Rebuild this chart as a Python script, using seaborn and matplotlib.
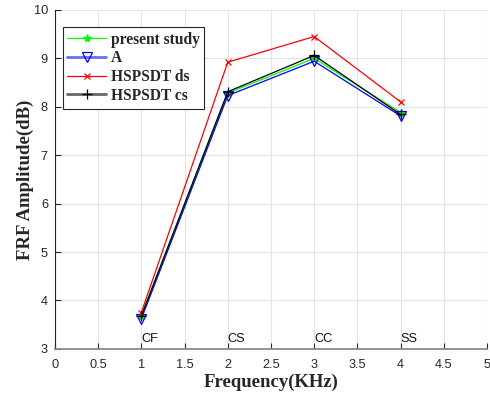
import matplotlib
matplotlib.use("Agg")
import matplotlib.pyplot as plt
import seaborn as sns
import pandas as pd

# Boundary conditions and their frequency positions
freq = [1, 2, 3, 4]
bc_labels = ["CF", "CS", "CC", "SS"]

present_study = [3.68, 8.28, 9.00, 7.88]
ref_a = [3.62, 8.23, 8.94, 7.81]
hspsdt_ds = [3.75, 8.92, 9.45, 8.10]
hspsdt_cs = [3.68, 8.31, 9.06, 7.84]

series = [
    ("present study", present_study, "#00ff00", "*", "#00ff00", 6),
    ("A", ref_a, "#0000ff", "v", "none", 7),
    ("HSPSDT ds", hspsdt_ds, "#ff0000", "x", "#ff0000", 5),
    ("HSPSDT cs", hspsdt_cs, "#000000", "+", "#000000", 7),
]

sns.set_style("whitegrid")
plt.rcParams["font.family"] = ["Liberation Sans", "DejaVu Sans"]

fig = plt.figure(figsize=(4.9, 3.96), dpi=100)
ax = fig.add_axes([0.112, 0.119, 0.882, 0.856])

for name, vals, color, marker, mfc, ms in series:
    df = pd.DataFrame({"freq": freq, "amp": vals})
    sns.lineplot(data=df, x="freq", y="amp", ax=ax, color=color, marker=marker,
                 markersize=ms, markerfacecolor=mfc, markeredgecolor=color,
                 markeredgewidth=0.9, linewidth=0.9, label=name)

for x, lab in zip(freq, bc_labels):
    ax.text(x, 3.14, lab, ha="left", va="baseline", fontsize=9.2, color="#111111")

ax.set_xlim(0, 5)
ax.set_ylim(3, 10)
ax.set_xticks([0, 0.5, 1, 1.5, 2, 2.5, 3, 3.5, 4, 4.5, 5])
ax.set_xticklabels(["0", "0.5", "1", "1.5", "2", "2.5", "3", "3.5", "4", "4.5", "5"])
ax.set_yticks(range(3, 11))
ax.grid(True, color="#e4e4e4", linewidth=0.8)
ax.tick_params(axis="both", direction="in", length=4, width=0.8, labelsize=9.2,
               colors="#262626", bottom=True, left=True)
ax.tick_params(axis="x", pad=7)
ax.tick_params(axis="y", pad=5)

for side in ["top", "right"]:
    ax.spines[side].set_visible(False)
ax.spines["left"].set_color("#262626")
ax.spines["bottom"].set_color("#8a8a8a")
ax.spines["left"].set_linewidth(0.8)
ax.spines["bottom"].set_linewidth(1.3)

ax.set_xlabel("Frequency(KHz)", fontsize=13.5, fontweight="bold",
              family="Liberation Serif", labelpad=2)
ax.set_ylabel("FRF Amplitude(dB)", fontsize=13.5, fontweight="bold",
              family="Liberation Serif", labelpad=0)

leg = ax.legend(loc="upper left", bbox_to_anchor=(0.018, 0.95), borderaxespad=0,
                frameon=True, fancybox=False, edgecolor="#262626", framealpha=1,
                prop={"family": "Liberation Serif", "weight": "bold", "size": 11.2},
                handlelength=2.5, borderpad=0.3, labelspacing=0.18, handletextpad=0.3)
leg.get_frame().set_linewidth(0.8)
handle_style = {"A": ("#6a6aff", 2.0), "HSPSDT cs": ("#666666", 2.0)}
for line, text in zip(leg.get_lines(), leg.get_texts()):
    if text.get_text() in handle_style:
        c, lw = handle_style[text.get_text()]
        line.set_color(c)
        line.set_linewidth(lw)

fig.savefig("out.png", dpi=100)
